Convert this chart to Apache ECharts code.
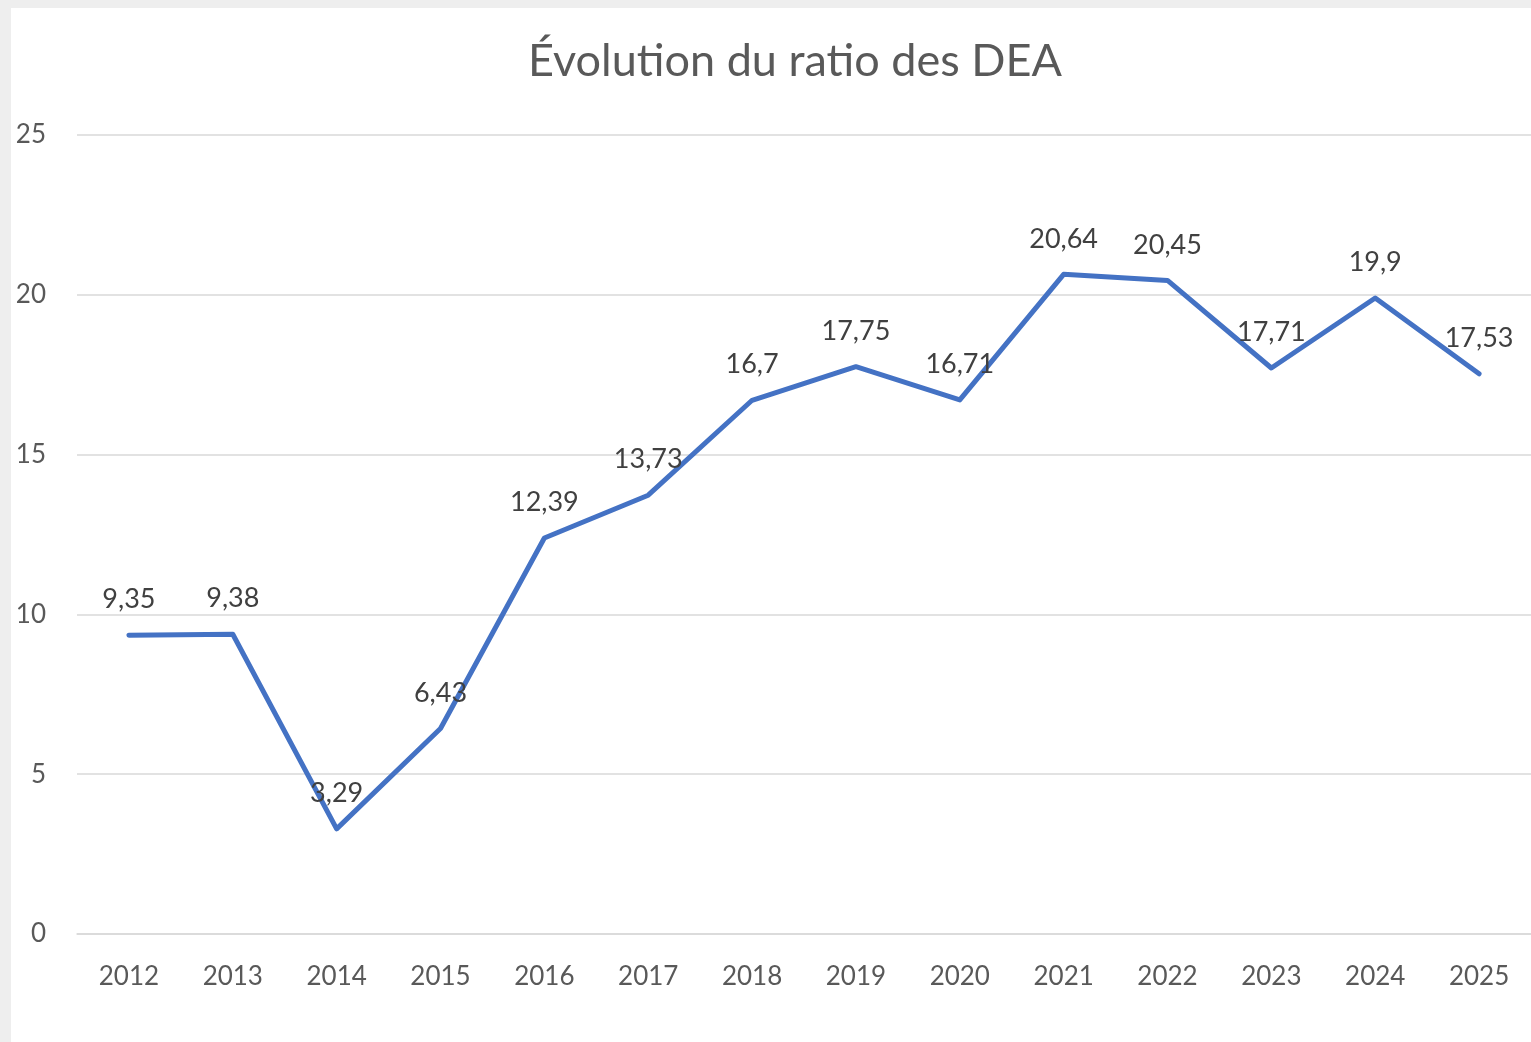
<!DOCTYPE html>
<html>
<head>
<meta charset="utf-8">
<script src="https://cdn.jsdelivr.net/npm/echarts@6/dist/echarts.min.js"></script>
<style>
  html, body { margin: 0; padding: 0; background: #eeeeee; }
  #chart { position: absolute; left: 11px; top: 8px; width: 1520px; height: 1034px; background: #ffffff; }
</style>
</head>
<body>
<div id="chart"></div>
<script>
const years = ['2012', '2013', '2014', '2015', '2016', '2017', '2018', '2019', '2020', '2021', '2022', '2023', '2024', '2025'];
const ratios = [9.35, 9.38, 3.29, 6.43, 12.39, 13.73, 16.7, 17.75, 16.71, 20.64, 20.45, 17.71, 19.9, 17.53];
const yTicks = [0, 5, 10, 15, 20, 25];

const myChart = echarts.init(document.getElementById('chart'));
const font = 'Lato, "Open Sans", sans-serif';

const option = {
  animation: false,
  title: {
    text: 'Évolution du ratio des DEA',
    left: 512,
    top: 26,
    textStyle: {
      fontFamily: font,
      fontSize: 45,
      fontWeight: 'normal',
      color: '#595959'
    }
  },
  grid: {
    left: 66,
    right: -2,
    top: 127,
    bottom: 108,
    containLabel: false
  },
  xAxis: {
    type: 'category',
    data: years,
    boundaryGap: true,
    axisLine: { lineStyle: { color: '#d9d9d9', width: 1.5 } },
    axisTick: { show: false },
    axisLabel: {
      margin: 30,
      fontFamily: font,
      fontSize: 26,
      color: '#595959'
    }
  },
  yAxis: {
    type: 'value',
    min: yTicks[0],
    max: yTicks[yTicks.length - 1],
    interval: 5,
    axisLine: { show: false },
    axisTick: { show: false },
    splitLine: { lineStyle: { color: '#d9d9d9', width: 1.5 } },
    axisLabel: {
      margin: 31,
      fontFamily: font,
      fontSize: 26,
      color: '#595959'
    }
  },
  series: [
    {
      name: 'Ratio DEA',
      type: 'line',
      data: ratios,
      showSymbol: true,
      symbol: 'circle',
      symbolSize: 0,
      lineStyle: { color: '#4472c4', width: 5, cap: 'round', join: 'round' },
      itemStyle: { color: '#4472c4' },
      label: {
        show: true,
        position: 'top',
        distance: 22,
        fontFamily: font,
        fontSize: 27,
        color: '#404040',
        formatter: (p) => String(p.value).replace('.', ',')
      }
    }
  ]
};

myChart.setOption(option);
window.addEventListener('resize', myChart.resize);
</script>
</body>
</html>
